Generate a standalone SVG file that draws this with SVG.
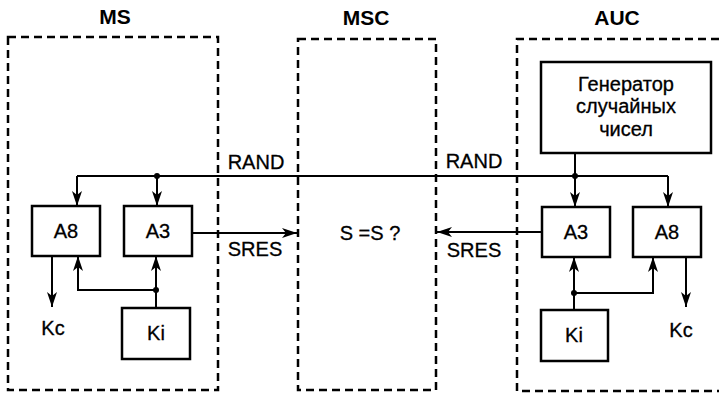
<svg xmlns="http://www.w3.org/2000/svg" width="719" height="396" viewBox="0 0 719 396">
<defs>
<marker id="arr" markerUnits="userSpaceOnUse" markerWidth="16" markerHeight="10" refX="15" refY="5" orient="auto">
<path d="M0,0 L15,5 L0,10 L4,5 z" fill="#000"/>
</marker>
<style>
.zone{fill:none;stroke:#000;stroke-width:2.5;stroke-dasharray:8 5}
.box{fill:#fff;stroke:#000;stroke-width:2.5}
.ln{fill:none;stroke:#000;stroke-width:2}
.ar{fill:none;stroke:#000;stroke-width:2;marker-end:url(#arr)}
.t{font-family:"Liberation Sans",Arial,sans-serif;font-size:20px;fill:#000;stroke:#000;stroke-width:0.3;text-anchor:middle}
.h{font-weight:bold;font-size:21px;stroke-width:0}
.dot{fill:#000}
</style>
</defs>
<rect width="719" height="396" fill="#fff"/>

<g id="zone-ms">
<rect class="zone" x="8" y="37" width="210" height="353"/>
<text class="t h" x="115" y="24">MS</text>
</g>
<g id="zone-msc">
<rect class="zone" x="298" y="39" width="138" height="351"/>
<text class="t h" x="366" y="25">MSC</text>
<text class="t" x="370" y="240">S =S ?</text>
</g>
<g id="zone-auc">
<path class="zone" d="M719,39 H517 V391 H719"/>
<text class="t h" x="617" y="25">AUC</text>
</g>

<g id="connectors">
<path class="ln" d="M77,176 H668"/>
<path class="ar" d="M77,176 V206"/>
<path class="ar" d="M157,176 V206"/>
<path class="ln" d="M575,153 V176"/>
<path class="ar" d="M575,176 V207"/>
<path class="ar" d="M668,176 V207"/>
<path class="ar" d="M192,233 H297"/>
<path class="ar" d="M542,232 H437"/>
<path class="ar" d="M52,256 V307"/>
<path class="ar" d="M686,257 V307"/>
<path class="ar" d="M156,308 V256"/>
<path class="ar" d="M156,290 H78 V256"/>
<path class="ar" d="M574,310 V257"/>
<path class="ar" d="M574,293 H653 V257"/>
<circle class="dot" cx="157" cy="176" r="3"/>
<circle class="dot" cx="575" cy="176" r="3"/>
<circle class="dot" cx="156" cy="290" r="3"/>
<circle class="dot" cx="574" cy="293" r="3"/>
<text class="t" x="256" y="169">RAND</text>
<text class="t" x="474" y="168">RAND</text>
<text class="t" x="255" y="256">SRES</text>
<text class="t" x="474" y="257">SRES</text>
<text class="t" x="53" y="335">Kc</text>
<text class="t" x="681" y="337">Kc</text>
</g>

<g id="ms-a8">
<rect class="box" x="32" y="206" width="68" height="50"/>
<text class="t" x="66" y="238">A8</text>
</g>
<g id="ms-a3">
<rect class="box" x="124" y="206" width="68" height="50"/>
<text class="t" x="158" y="238">A3</text>
</g>
<g id="ms-ki">
<rect class="box" x="122" y="308" width="68" height="51"/>
<text class="t" x="156" y="340">Ki</text>
</g>

<g id="auc-gen">
<rect class="box" x="541" y="62" width="170" height="91"/>
<text class="t" x="626" y="91">Генератор</text>
<text class="t" x="626" y="113">случайных</text>
<text class="t" x="626" y="136">чисел</text>
</g>
<g id="auc-a3">
<rect class="box" x="542" y="207" width="68" height="50"/>
<text class="t" x="576" y="239">A3</text>
</g>
<g id="auc-a8">
<rect class="box" x="633" y="207" width="68" height="50"/>
<text class="t" x="667" y="239">A8</text>
</g>
<g id="auc-ki">
<rect class="box" x="541" y="310" width="67" height="51"/>
<text class="t" x="574" y="342">Ki</text>
</g>
</svg>
